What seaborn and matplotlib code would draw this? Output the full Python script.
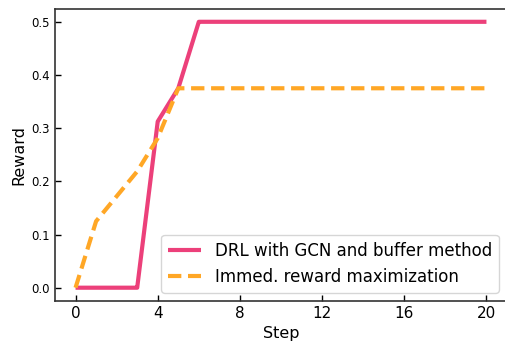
import matplotlib
matplotlib.use("Agg")
import matplotlib.pyplot as plt
import seaborn as sns
import pandas as pd

steps = list(range(0, 21))
drl_gcn = [0, 0, 0, 0, 0.3125, 0.375] + [0.5] * 15
immed = [0, 0.125, 0.171875, 0.21875, 0.28125] + [0.375] * 16

labels = ["DRL with GCN and buffer method", "Immed. reward maximization"]
x_ticks = [0, 4, 8, 12, 16, 20]
y_ticks = [0.0, 0.1, 0.2, 0.3, 0.4, 0.5]

df = pd.DataFrame({
    "Step": steps * 2,
    "Reward": drl_gcn + immed,
    "Method": [labels[0]] * len(steps) + [labels[1]] * len(steps),
})

sns.set_style("ticks", {
    "axes.edgecolor": "#333333", "text.color": "black",
    "axes.labelcolor": "black", "xtick.color": "black", "ytick.color": "black",
    "xtick.direction": "in", "ytick.direction": "in",
})
plt.rcParams['font.family'] = ['DejaVu Sans']
fig = plt.figure(figsize=(5.05, 3.44), dpi=100)
ax = fig.add_axes([55 / 505, 43 / 344, 452 / 505, 292.5 / 344])
sns.lineplot(data=df, x="Step", y="Reward", hue="Method", style="Method",
             palette=["#EC407A", "#FFA726"], dashes=[(1, 0), (3.2, 1.6)],
             linewidth=3, ax=ax)
ax.set_xlim(-1, 21)
ax.set_ylim(-0.025, 0.525)
ax.set_xticks(x_ticks)
ax.set_yticks(y_ticks)
ax.set_yticklabels([f"{v:.1f}" for v in y_ticks])
ax.tick_params(axis="x", direction="in", labelsize=11, length=4, width=1)
ax.tick_params(axis="y", direction="in", labelsize=8.5, length=4, width=1)
ax.set_xlabel("Step", fontsize=11.5)
ax.set_ylabel("Reward", fontsize=11.5)
for s in ax.spines.values():
    s.set_visible(True)
    s.set_linewidth(1.2)
ax.legend(title=None, fontsize=12, loc="lower right", handlelength=2.0,
          bbox_to_anchor=(1.0, 0.0))
fig.savefig("out.png", dpi=100)
